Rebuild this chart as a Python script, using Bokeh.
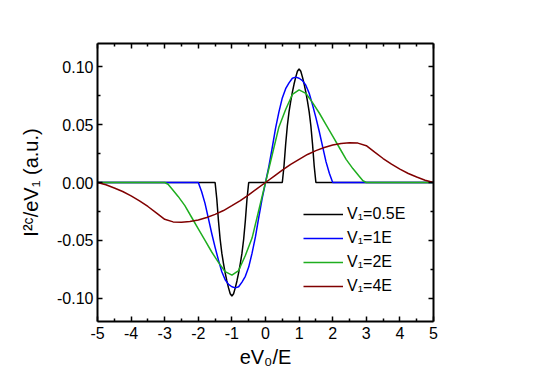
from bokeh.plotting import figure
from bokeh.models import Range1d, FixedTicker, LinearAxis, Legend, LegendItem, CustomJSTickFormatter
from bokeh.embed import file_html
from bokeh.resources import INLINE

# ---------------- data ----------------
# V1 = 0.5E (black)
x_05 = [-5.0,
        -1.5, -1.45, -1.4, -1.35, -1.3, -1.25, -1.2, -1.15, -1.1, -1.05, -1.0,
        -0.95, -0.9, -0.85, -0.8, -0.75, -0.7, -0.65, -0.6, -0.55, -0.5,
        0.5, 0.55, 0.6, 0.65, 0.7, 0.75, 0.8, 0.85, 0.9, 0.95, 1.0,
        1.05, 1.1, 1.15, 1.2, 1.25, 1.3, 1.35, 1.4, 1.45, 1.5,
        5.0]
y_05 = [0.0,
        0.0, -0.014, -0.033, -0.049, -0.061, -0.070, -0.078, -0.085, -0.091, -0.096, -0.098,
        -0.096, -0.091, -0.085, -0.078, -0.070, -0.061, -0.049, -0.033, -0.014, 0.0,
        0.0, 0.014, 0.033, 0.049, 0.061, 0.070, 0.078, 0.085, 0.091, 0.096, 0.098,
        0.096, 0.091, 0.085, 0.078, 0.070, 0.061, 0.049, 0.033, 0.014, 0.0,
        0.0]

# V1 = 1E (blue)
x_1 = [-5.0,
       -2.0, -1.9, -1.8, -1.7, -1.6, -1.5, -1.4, -1.3, -1.2, -1.1, -1.0,
       -0.9, -0.8, -0.7, -0.6, -0.5, -0.4, -0.3, -0.2, -0.1, 0.0,
       0.1, 0.2, 0.3, 0.4, 0.5, 0.6, 0.7, 0.8, 0.9, 1.0,
       1.1, 1.2, 1.3, 1.4, 1.5, 1.6, 1.7, 1.8, 1.9, 2.0,
       5.0]
y_1 = [0.0,
       0.0, -0.008, -0.018, -0.031, -0.044, -0.056, -0.067, -0.077, -0.084, -0.088, -0.090,
       -0.091, -0.090, -0.086, -0.081, -0.073, -0.061, -0.047, -0.030, -0.014, 0.0,
       0.014, 0.030, 0.047, 0.061, 0.073, 0.081, 0.086, 0.090, 0.091, 0.090,
       0.088, 0.084, 0.077, 0.067, 0.056, 0.044, 0.031, 0.018, 0.008, 0.0,
       0.0]

# V1 = 2E (green)
x_2 = [-5.0,
       -3.0, -2.9, -2.8, -2.6, -2.4, -2.2, -2.0, -1.8, -1.6, -1.4, -1.2, -1.0,
       -0.8, -0.6, -0.4, -0.2, 0.0,
       0.2, 0.4, 0.6, 0.8, 1.0, 1.2, 1.4, 1.6, 1.8, 2.0,
       2.2, 2.4, 2.6, 2.8, 2.9, 3.0,
       5.0]
y_2 = [0.0,
       0.0, -0.0015, -0.005, -0.012, -0.020, -0.030, -0.040, -0.050, -0.060, -0.069, -0.077, -0.080,
       -0.076, -0.063, -0.048, -0.024, 0.0,
       0.024, 0.048, 0.063, 0.076, 0.080, 0.077, 0.069, 0.060, 0.050, 0.040,
       0.030, 0.020, 0.012, 0.005, 0.0015, 0.0,
       0.0]

# V1 = 4E (wine)
x_4 = [-5.0, -4.75, -4.5, -4.25, -4.0, -3.75, -3.5, -3.25, -3.0, -2.75, -2.5,
       -2.25, -2.0, -1.75, -1.5, -1.25, -1.0, -0.75, -0.5, -0.25, 0.0,
       0.25, 0.5, 0.75, 1.0, 1.25, 1.5, 1.75, 2.0, 2.25, 2.5,
       2.75, 3.0, 3.25, 3.5, 3.75, 4.0, 4.25, 4.5, 4.75, 5.0]
y_4 = [0.0, -0.0020, -0.0047, -0.0078, -0.0115, -0.0158, -0.0207, -0.0262, -0.0318, -0.0340, -0.0343,
       -0.0337, -0.0323, -0.0302, -0.0275, -0.0242, -0.0200, -0.0157, -0.0106, -0.0053, 0.0,
       0.0053, 0.0106, 0.0157, 0.0200, 0.0242, 0.0275, 0.0302, 0.0323, 0.0337, 0.0343,
       0.0340, 0.0318, 0.0262, 0.0207, 0.0158, 0.0115, 0.0078, 0.0047, 0.0020, 0.0]

series_labels = ["V\u2081=0.5E", "V\u2081=1E", "V\u2081=2E", "V\u2081=4E"]
series_colors = ["#000000", "#0000ff", "#1fae1f", "#800000"]

x_ticks = [-5, -4, -3, -2, -1, 0, 1, 2, 3, 4, 5]
x_tick_labels = ["-5", "-4", "-3", "-2", "-1", "0", "1", "2", "3", "4", "5"]
x_minor = [-4.5, -3.5, -2.5, -1.5, -0.5, 0.5, 1.5, 2.5, 3.5, 4.5]
y_ticks = [-0.10, -0.05, 0.0, 0.05, 0.10]
y_tick_labels = ["-0.10", "-0.05", "0.00", "0.05", "0.10"]
y_minor = [-0.075, -0.025, 0.025, 0.075]

x_title = "eV\u2080/E"
y_title = "I\u00b2\u1d9c/eV\u2081 (a.u.)"

FONT = "Liberation Sans"

# ---------------- figure ----------------
p = figure(width=537, height=377,
           x_range=Range1d(-5, 5), y_range=Range1d(-0.12, 0.12),
           output_backend="svg", toolbar_location=None,
           min_border_left=97, min_border_right=104,
           min_border_top=43, min_border_bottom=56)
p.grid.visible = False
p.outline_line_color = None
p.background_fill_color = "white"
p.border_fill_color = "white"

xticker = FixedTicker(ticks=x_ticks, minor_ticks=x_minor)
yticker = FixedTicker(ticks=y_ticks, minor_ticks=y_minor)

def style_axis(ax):
    ax.axis_line_color = "black"
    ax.axis_line_width = 2
    ax.major_tick_in = 5
    ax.major_tick_out = 0
    ax.minor_tick_in = 3
    ax.minor_tick_out = 0
    ax.major_tick_line_width = 1.5
    ax.minor_tick_line_width = 1.5
    ax.major_tick_line_color = "black"
    ax.minor_tick_line_color = "black"
    ax.major_label_text_font = FONT
    ax.major_label_text_font_size = "16px"
    ax.major_label_text_color = "black"
    ax.axis_label_text_font = FONT
    ax.axis_label_text_font_style = "normal"
    ax.axis_label_text_font_size = "20px"
    ax.axis_label_text_color = "black"

xa = p.xaxis[0]
xa.ticker = xticker
xa.major_label_overrides = dict(zip(x_ticks, x_tick_labels))
xa.axis_label = x_title
style_axis(xa)
xa.major_label_standoff = 5
xa.axis_label_standoff = 4

ya = p.yaxis[0]
ya.ticker = yticker
ya.major_label_overrides = dict(zip(y_ticks, y_tick_labels))
ya.axis_label = y_title
style_axis(ya)
ya.major_label_standoff = 4
ya.axis_label_standoff = 12

blank = CustomJSTickFormatter(code="return ''")
top = LinearAxis(ticker=FixedTicker(ticks=x_ticks, minor_ticks=x_minor), formatter=blank)
right = LinearAxis(ticker=FixedTicker(ticks=y_ticks, minor_ticks=y_minor), formatter=blank)
for ax in (top, right):
    style_axis(ax)
    ax.major_label_text_font_size = "0px"
    ax.major_label_standoff = 0
p.add_layout(top, "above")
p.add_layout(right, "right")

xs = [x_05, x_1, x_2, x_4]
ys = [y_05, y_1, y_2, y_4]
items = []
for xv, yv, lab, col in zip(xs, ys, series_labels, series_colors):
    r = p.line(xv, yv, line_color=col, line_width=1.5)
    items.append(LegendItem(label=lab, renderers=[r]))

leg = Legend(items=items, location=(206, 25))
leg.border_line_color = None
leg.background_fill_alpha = 0
leg.label_text_font = FONT
leg.label_text_font_size = "16px"
leg.label_text_color = "black"
leg.glyph_width = 40
leg.glyph_height = 20
leg.label_height = 20
leg.spacing = 4
leg.padding = 0
leg.margin = 0
leg.label_standoff = 4
p.add_layout(leg, "center")

open("out.html", "w").write(file_html(p, INLINE))
